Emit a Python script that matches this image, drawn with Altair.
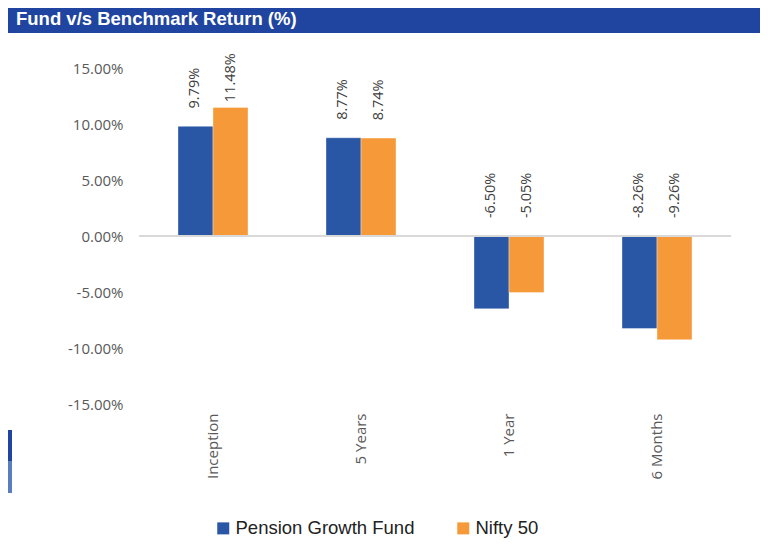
import altair as alt
import pandas as pd

categories = ["Inception", "5 Years", "1 Year", "6 Months"]
series = ["Pension Growth Fund", "Nifty 50"]
fund = [9.79, 8.77, -6.50, -8.26]
nifty = [11.48, 8.74, -5.05, -9.26]
y_ticks = [-15, -10, -5, 0, 5, 10, 15]
colors = ["#2a57a5", "#f69a39"]
title_text = "Fund v/s Benchmark Return (%)"

rows = []
for c, f, n in zip(categories, fund, nifty):
    rows.append({"category": c, "series": series[0], "value": f})
    rows.append({"category": c, "series": series[1], "value": n})
df = pd.DataFrame(rows)
one = pd.DataFrame({"k": [0]})

W, H = 592, 336
pct_expr = "replace(format(datum.value, '.2f'), '\u2212', '-') + '%'"

x_enc = alt.X("category:N", sort=categories,
              scale=alt.Scale(paddingInner=0.527, paddingOuter=0.2635),
              axis=alt.Axis(title=None, labelAngle=270, domain=False, ticks=False,
                            labelPadding=9, labelFont="Open Sans", labelFontSize=15,
                            labelColor="#595959"))
xoff_enc = alt.XOffset("series:N", sort=series,
                       scale=alt.Scale(paddingInner=0, paddingOuter=0))
y_scale = alt.Scale(domain=[-15, 15], nice=False)

bars = alt.Chart(df).mark_bar(stroke="white", strokeWidth=0.6, strokeOpacity=0.6).encode(
    x=x_enc,
    xOffset=xoff_enc,
    y=alt.Y("value:Q", scale=y_scale,
            axis=alt.Axis(title=None, values=y_ticks, domain=False, ticks=False, grid=False,
                          labelExpr=pct_expr,
                          labelPadding=16, labelFont="Open Sans", labelFontSize=15,
                          labelColor="#595959")),
    color=alt.Color("series:N", sort=series,
                    scale=alt.Scale(domain=series, range=colors),
                    legend=alt.Legend(title=None, orient="none", legendX=75, legendY=451,
                                      direction="horizontal", symbolType="square",
                                      symbolSize=144, symbolStrokeWidth=0,
                                      labelFont="Liberation Sans", labelFontSize=18.5,
                                      labelColor="#222222", columnPadding=39,
                                      labelOffset=3, labelLimit=0, padding=0)),
)

zero = alt.Chart(one).mark_rule(color="#d9d9d9", strokeWidth=2).encode(
    y=alt.datum(0, scale=y_scale), x=alt.value(0), x2=alt.value(W))

labels = alt.Chart(df).transform_calculate(
    pos="min(max(datum.value, 0) + 1.6, 11.95)",
    txt=pct_expr,
).mark_text(angle=270, align="left", baseline="middle", font="Open Sans",
            fontSize=14.5, color="#404040").encode(
    x=alt.X("category:N", sort=categories),
    xOffset=xoff_enc,
    y=alt.Y("pos:Q", scale=y_scale),
    text="txt:N",
)

banner = alt.Chart(one).mark_rect(color="#1f45a0").encode(
    x=alt.value(-131), x2=alt.value(621), y=alt.value(-68), y2=alt.value(-35))
banner_text = alt.Chart(one).mark_text(
    text=title_text, align="left", baseline="alphabetic", font="Liberation Sans",
    fontSize=18.5, fontWeight="bold", color="white").encode(
    x=alt.value(-123), y=alt.value(-43))

side1 = alt.Chart(one).mark_rect(color="#1f45a0").encode(
    x=alt.value(-140), x2=alt.value(-127), y=alt.value(362), y2=alt.value(393))
side2 = alt.Chart(one).mark_rect(color="#5a7dbd").encode(
    x=alt.value(-140), x2=alt.value(-127), y=alt.value(393), y2=alt.value(425))

chart = alt.layer(bars, zero, labels, banner, banner_text, side1, side2).properties(
    width=W, height=H,
    autosize=alt.AutoSizeParams(type="none"),
    padding={"left": 131, "top": 60, "right": 40, "bottom": 137},
    background="white",
).configure_view(stroke=None, strokeWidth=0)

chart.save("out.html", embed_options={"renderer": "svg", "actions": False})
